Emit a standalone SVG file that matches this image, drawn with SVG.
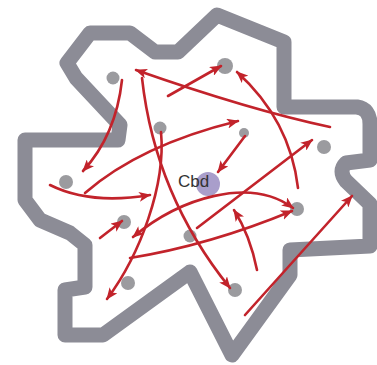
<svg xmlns="http://www.w3.org/2000/svg" width="377" height="365" viewBox="0 0 377 365">
<style>
.border{fill:none;stroke:#8c8c96;stroke-width:15;stroke-linejoin:round;stroke-linecap:round}
.dot{fill:#9b9b9f}
.cbd{fill:#a99ecb}
.lbl{font-family:"Liberation Sans",Arial,sans-serif;font-size:17px;fill:#333}
.ar{fill:none;stroke:#c2232b;stroke-width:2.6;stroke-linecap:round;marker-end:url(#ah)}
.ar2{marker-start:url(#ah)}
</style>
<defs>
<marker id="ah" viewBox="0 0 12 10" refX="11" refY="5" markerWidth="12" markerHeight="10" markerUnits="userSpaceOnUse" orient="auto-start-reverse">
<path d="M0,0 L12,5 L0,10 L3,5 Z" fill="#c2232b"/>
</marker>
</defs>
<rect width="377" height="365" fill="#ffffff"/>
<path class="border" d="M90,33 L130,33 L155,52 L178,52 L217,15 L284,42 L284,107 L357,107 Q370,109 370,124 L370,160 L346,163 Q338,171 346,181 L370,204 L370,246 L290,250 L290,275 L232,355 L190,272 L103,335 L65,335 L65,290 L85,287 L85,245 L70,233 L40,220 L25,200 L25,140 L118,140 L120,125 L76,78 L67,63 Z"/>
<g id="n1"><circle class="dot" cx="113" cy="78" r="6.5"/></g>
<g id="n2"><circle class="dot" cx="225" cy="66" r="8"/></g>
<g id="n3"><circle class="dot" cx="160" cy="128" r="6.5"/></g>
<g id="n4"><circle class="dot" cx="244" cy="133" r="5"/></g>
<g id="n5"><circle class="dot" cx="324" cy="147" r="7"/></g>
<g id="n6"><circle class="dot" cx="66" cy="182" r="7"/></g>
<g id="n7"><circle class="dot" cx="124" cy="222" r="7"/></g>
<g id="n8"><circle class="dot" cx="190" cy="236" r="6.5"/></g>
<g id="n9"><circle class="dot" cx="297" cy="209" r="7"/></g>
<g id="n10"><circle class="dot" cx="128" cy="283" r="7"/></g>
<g id="n11"><circle class="dot" cx="235" cy="290" r="7"/></g>
<g id="cbd"><circle class="cbd" cx="208" cy="184" r="12"/><text class="lbl" x="178" y="187">Cbd</text></g>
<g id="connectors">
<path class="ar" d="M122,80 Q116,135 83,171"/>
<path class="ar" d="M330,127 Q250,110 136,70"/>
<path class="ar" d="M142,78 C150,150 175,220 230,288"/>
<path class="ar" d="M161,132 C166,185 140,255 107,299"/>
<path class="ar" d="M50,185 Q90,205 150,195"/>
<path class="ar" d="M85,193 Q140,145 238,121"/>
<path class="ar" d="M168,96 L221,66"/>
<path class="ar" d="M298,188 Q290,120 237,72"/>
<path class="ar" d="M245,136 L218,172"/>
<path class="ar" d="M100,238 L122,221"/>
<path class="ar ar2" d="M133,237 C180,198 250,176 293,208"/>
<path class="ar" d="M130,258 Q210,245 292,211"/>
<path class="ar" d="M197,228 L312,140"/>
<path class="ar" d="M257,270 Q250,235 234,210"/>
<path class="ar" d="M245,315 L352,196"/>
</g>
</svg>
